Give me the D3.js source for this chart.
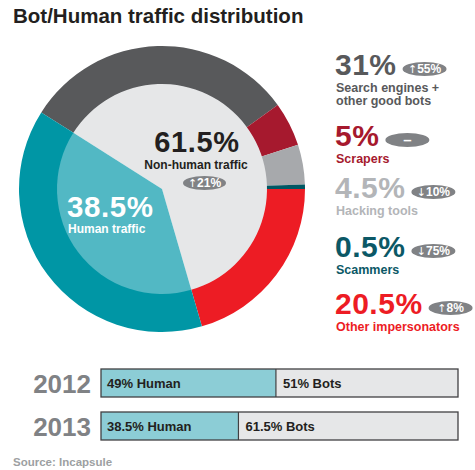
<!DOCTYPE html>
<html lang="en">
<head>
<meta charset="UTF-8">
<title>Bot/Human traffic distribution</title>
<script src="https://d3js.org/d3.v7.min.js"></script>
<style>
  body { margin: 0; background: #fff; }
  svg { display: block; font-family: "Liberation Sans", Arial, Helvetica, sans-serif; font-weight: bold; }
</style>
</head>
<body>
<svg id="chart" width="475" height="470"></svg>
<script>
// data
var botLabels  = [["Search engines +", "other good bots"], ["Scrapers"], ["Hacking tools"], ["Scammers"], ["Other impersonators"]];
var botValues  = [31, 5, 4.5, 0.5, 20.5];
var botChanges = ["\u219155%", "\u2013", "\u219310%", "\u219375%", "\u21918%"];
var botColors  = ["#58595b", "#a6192e", "#a7a9ac", "#005763", "#ed1c24"];
var botText    = ["#58595b", "#a6192e", "#b3b5b8", "#0b5866", "#ed1c24"];
var humanValue = 38.5;
var totalBots  = 61.5;
var totalChange = "\u219121%";
var years      = ["2012", "2013"];
var humanShare = [49, 38.5];

var svg = d3.select("#chart");
var cx = 162, cy = 189, rOuter = 143, rInner = 105;
var pillColor = "#808285";

svg.append("text")
    .attr("x", 13).attr("y", 23)
    .attr("font-size", 20.5)
    .attr("fill", "#231f20")
    .text("Bot/Human traffic distribution");

// ring: bots in legend order followed by humans; impersonators begin at 3 o'clock
var ringData = botValues.map(function(v, i) { return {value: v, color: botColors[i]}; })
    .concat([{value: humanValue, color: "#0096a5"}]);
var before = d3.sum(botValues.slice(0, 4));
var start = Math.PI / 2 - before / 100 * 2 * Math.PI;

var pie = d3.pie().sort(null).value(function(d) { return d.value; })
    .startAngle(start).endAngle(start + 2 * Math.PI);

var g = svg.append("g").attr("transform", "translate(" + cx + "," + cy + ")");

g.selectAll("path.ring")
    .data(pie(ringData))
  .enter().append("path")
    .attr("class", "ring")
    .attr("d", d3.arc().innerRadius(rInner - 1).outerRadius(rOuter))
    .attr("fill", function(d) { return d.data.color; });

var innerData = [{value: totalBots, color: "#e6e7e8"}, {value: humanValue, color: "#52b8c4"}];
g.selectAll("path.inner")
    .data(pie(innerData))
  .enter().append("path")
    .attr("class", "inner")
    .attr("d", d3.arc().innerRadius(0).outerRadius(rInner))
    .attr("fill", function(d) { return d.data.color; });

// grey rounded badge with the year-on-year change
function pill(parent, x, y, w, txt) {
    parent.append("rect")
        .attr("x", x).attr("y", y - 7).attr("width", w).attr("height", 14)
        .attr("rx", w / 2).attr("ry", 7)
        .attr("fill", pillColor);
    var t = parent.append("text")
        .attr("x", x + w / 2).attr("y", y + 4.2)
        .attr("text-anchor", "middle")
        .attr("font-size", 12)
        .attr("fill", "#fff");
    var first = txt.charAt(0);
    if (first === "\u2191" || first === "\u2193") {
        t.append("tspan")
            .attr("font-family", "DejaVu Sans")
            .attr("font-weight", "normal")
            .attr("font-size", 11)
            .text(first);
        t.append("tspan").text(txt.slice(1));
    } else {
        t.attr("font-size", 15).attr("y", y + 5).text(txt);
    }
}

// centre labels
svg.append("text")
    .attr("x", 197).attr("y", 152)
    .attr("text-anchor", "middle")
    .attr("font-size", 29).attr("letter-spacing", 0.7)
    .attr("fill", "#231f20")
    .text(totalBots + "%");
svg.append("text")
    .attr("x", 196).attr("y", 168.5)
    .attr("text-anchor", "middle")
    .attr("font-size", 12)
    .attr("fill", "#231f20")
    .text("Non-human traffic");
pill(svg, 183, 183, 43, totalChange);

svg.append("text")
    .attr("x", 67).attr("y", 217)
    .attr("font-size", 29.5).attr("letter-spacing", 0.6)
    .attr("fill", "#fff")
    .text(humanValue + "%");
svg.append("text")
    .attr("x", 68).attr("y", 233)
    .attr("font-size", 12)
    .attr("fill", "#fff")
    .text("Human traffic");

// legend
var rowY = [75, 146, 198, 257, 314];
var legend = svg.append("g");
botValues.forEach(function(v, i) {
    var t = legend.append("text")
        .attr("x", 335).attr("y", rowY[i])
        .attr("font-size", 30).attr("letter-spacing", 0.5)
        .attr("fill", botText[i])
        .text(v + "%");
    var w = t.node().getComputedTextLength();
    pill(legend, 335 + w + 6, rowY[i] - 6, 44, botChanges[i]);
    botLabels[i].forEach(function(line, j) {
        legend.append("text")
            .attr("x", 336).attr("y", rowY[i] + 17 + j * 12.5)
            .attr("font-size", 12.5)
            .attr("fill", botText[i])
            .text(line);
    });
});

// year bars
var x = d3.scaleLinear().domain([0, 100]).range([101, 458]);
var y = d3.scaleBand().domain(years).range([369, 440]).paddingInner(15 / 43).paddingOuter(0);

var bars = svg.append("g").selectAll("g")
    .data(years)
  .enter().append("g");

bars.append("rect")
    .attr("x", x(0)).attr("y", function(d) { return y(d); })
    .attr("width", x(100) - x(0)).attr("height", y.bandwidth())
    .attr("fill", "#e6e7e8");
bars.append("rect")
    .attr("x", x(0)).attr("y", function(d) { return y(d); })
    .attr("width", function(d, i) { return x(humanShare[i]) - x(0); })
    .attr("height", y.bandwidth())
    .attr("fill", "#8ccdd6");
bars.append("line")
    .attr("x1", function(d, i) { return x(humanShare[i]); })
    .attr("x2", function(d, i) { return x(humanShare[i]); })
    .attr("y1", function(d) { return y(d); })
    .attr("y2", function(d) { return y(d) + y.bandwidth(); })
    .attr("stroke", "#414042").attr("stroke-width", 1.2);
bars.append("rect")
    .attr("x", x(0)).attr("y", function(d) { return y(d); })
    .attr("width", x(100) - x(0)).attr("height", y.bandwidth())
    .attr("fill", "none")
    .attr("stroke", "#414042").attr("stroke-width", 1.3);

bars.append("text")
    .attr("x", 91).attr("y", function(d) { return y(d) + y.bandwidth() / 2 + 9.5; })
    .attr("text-anchor", "end")
    .attr("font-size", 26)
    .attr("fill", "#808285")
    .text(function(d) { return d; });
bars.append("text")
    .attr("x", x(0) + 6).attr("y", function(d) { return y(d) + y.bandwidth() / 2 + 4.5; })
    .attr("font-size", 13)
    .attr("fill", "#231f20")
    .text(function(d, i) { return humanShare[i] + "% Human"; });
bars.append("text")
    .attr("x", function(d, i) { return x(humanShare[i]) + 7; })
    .attr("y", function(d) { return y(d) + y.bandwidth() / 2 + 4.5; })
    .attr("font-size", 13)
    .attr("fill", "#231f20")
    .text(function(d, i) { return (100 - humanShare[i]) + "% Bots"; });

svg.append("text")
    .attr("x", 13).attr("y", 466)
    .attr("font-size", 11.5)
    .attr("fill", "#9d9fa2")
    .text("Source: Incapsule");
</script>
</body>
</html>
